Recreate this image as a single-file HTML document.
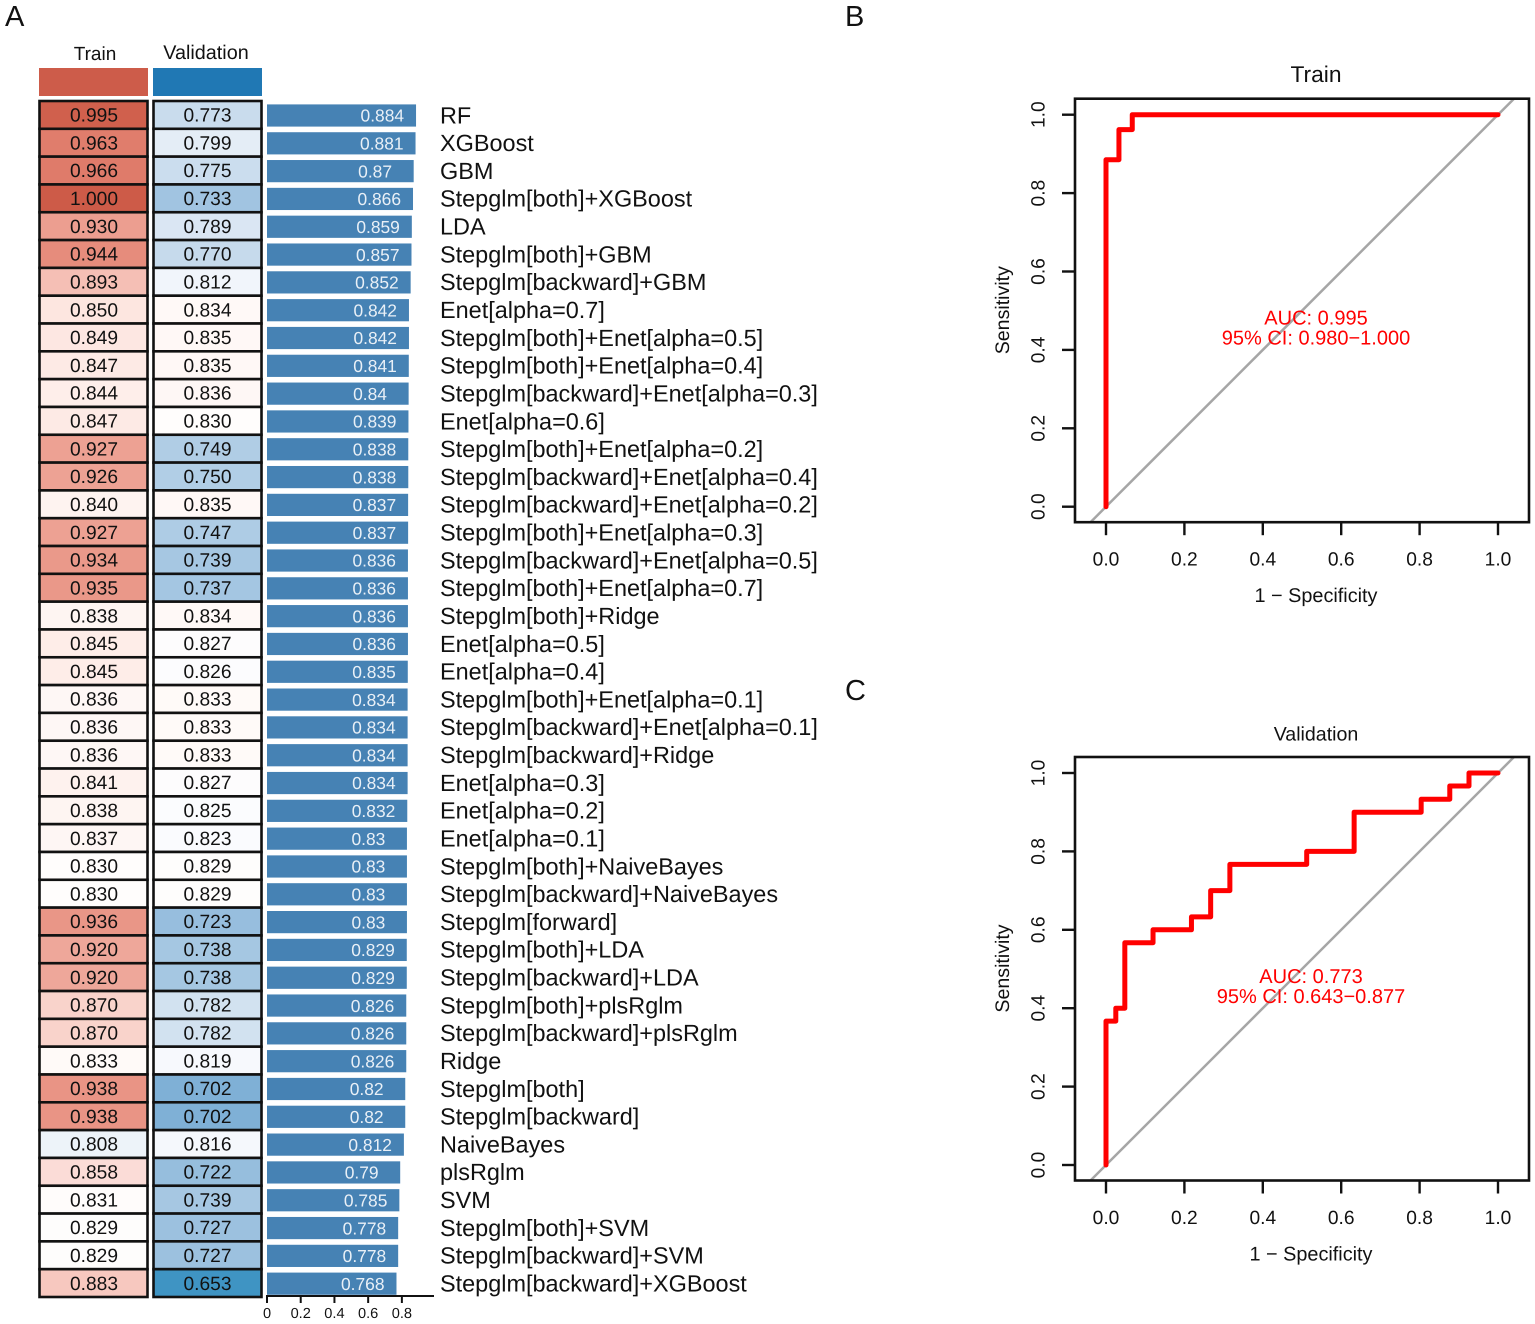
<!DOCTYPE html>
<html lang="en">
<head>
<meta charset="utf-8">
<title>Model benchmark heatmap and ROC curves</title>
<style>
html,body{margin:0;padding:0;background:#fff;width:1535px;height:1324px;overflow:hidden}
svg{display:block;font-family:"Liberation Sans",Arial,sans-serif;text-rendering:geometricPrecision}
</style>
</head>
<body>
<svg id="fig" xmlns="http://www.w3.org/2000/svg" width="1535" height="1324" viewBox="0 0 1535 1324">
  <rect x="0" y="0" width="1535" height="1324" fill="#ffffff"/>
  <text x="5" y="26" font-size="29" fill="#111">A</text>
  <text x="845" y="26" font-size="29" fill="#111">B</text>
  <text x="845" y="700" font-size="29" fill="#111">C</text>
  <text x="95" y="60" font-size="19" text-anchor="middle" fill="#111">Train</text>
  <text x="206" y="59" font-size="19.8" text-anchor="middle" fill="#111">Validation</text>
  <rect x="39" y="68" width="109" height="28" fill="#cd5c4a"/>
  <rect x="153" y="68" width="109" height="28" fill="#2078b4"/>
</svg>
<script>
const methods = ["RF","XGBoost","GBM","Stepglm[both]+XGBoost","LDA","Stepglm[both]+GBM","Stepglm[backward]+GBM","Enet[alpha=0.7]","Stepglm[both]+Enet[alpha=0.5]","Stepglm[both]+Enet[alpha=0.4]","Stepglm[backward]+Enet[alpha=0.3]","Enet[alpha=0.6]","Stepglm[both]+Enet[alpha=0.2]","Stepglm[backward]+Enet[alpha=0.4]","Stepglm[backward]+Enet[alpha=0.2]","Stepglm[both]+Enet[alpha=0.3]","Stepglm[backward]+Enet[alpha=0.5]","Stepglm[both]+Enet[alpha=0.7]","Stepglm[both]+Ridge","Enet[alpha=0.5]","Enet[alpha=0.4]","Stepglm[both]+Enet[alpha=0.1]","Stepglm[backward]+Enet[alpha=0.1]","Stepglm[backward]+Ridge","Enet[alpha=0.3]","Enet[alpha=0.2]","Enet[alpha=0.1]","Stepglm[both]+NaiveBayes","Stepglm[backward]+NaiveBayes","Stepglm[forward]","Stepglm[both]+LDA","Stepglm[backward]+LDA","Stepglm[both]+plsRglm","Stepglm[backward]+plsRglm","Ridge","Stepglm[both]","Stepglm[backward]","NaiveBayes","plsRglm","SVM","Stepglm[both]+SVM","Stepglm[backward]+SVM","Stepglm[backward]+XGBoost"];
const trainAuc = [0.995,0.963,0.966,1.000,0.930,0.944,0.893,0.850,0.849,0.847,0.844,0.847,0.927,0.926,0.840,0.927,0.934,0.935,0.838,0.845,0.845,0.836,0.836,0.836,0.841,0.838,0.837,0.830,0.830,0.936,0.920,0.920,0.870,0.870,0.833,0.938,0.938,0.808,0.858,0.831,0.829,0.829,0.883];
const validationAuc = [0.773,0.799,0.775,0.733,0.789,0.770,0.812,0.834,0.835,0.835,0.836,0.830,0.749,0.750,0.835,0.747,0.739,0.737,0.834,0.827,0.826,0.833,0.833,0.833,0.827,0.825,0.823,0.829,0.829,0.723,0.738,0.738,0.782,0.782,0.819,0.702,0.702,0.816,0.722,0.739,0.727,0.727,0.653];
const meanAuc = [0.884,0.881,0.87,0.866,0.859,0.857,0.852,0.842,0.842,0.841,0.84,0.839,0.838,0.838,0.837,0.837,0.836,0.836,0.836,0.836,0.835,0.834,0.834,0.834,0.834,0.832,0.83,0.83,0.83,0.83,0.829,0.829,0.826,0.826,0.826,0.82,0.82,0.812,0.79,0.785,0.778,0.778,0.768];
const meanTicks = [0,0.2,0.4,0.6,0.8];
const colorValues = [0.653,0.702,0.727,0.739,0.773,0.799,0.816,0.825,0.83,0.84,0.85,0.858,0.87,0.893,0.93,0.944,0.966,1.0];
const colorHexes = ["#3f94c3","#7fb0d6","#9cc1df","#a6c7e2","#c9dced","#e4edf6","#f5f8fc","#fbfcfe","#fffdfc","#fef3f0","#fde6e0","#fbdcd7","#f9d3cb","#f5bfb5","#ec9e90","#e68c7c","#df7b6a","#cd5b48"];
const rocTicks = [0,0.2,0.4,0.6,0.8,1];
const trainFpr = [0,0,0.033,0.033,0.067,0.067,1];
const trainTpr = [0,0.885,0.885,0.962,0.962,1,1];
const validationFpr = [0,0,0.025,0.025,0.048,0.048,0.12,0.12,0.218,0.218,0.267,0.267,0.316,0.316,0.512,0.512,0.633,0.633,0.804,0.804,0.877,0.877,0.926,0.926,1];
const validationTpr = [0,0.367,0.367,0.4,0.4,0.567,0.567,0.6,0.6,0.633,0.633,0.7,0.7,0.767,0.767,0.8,0.8,0.9,0.9,0.933,0.933,0.967,0.967,1,1];

const NS = "http://www.w3.org/2000/svg";
const svg = document.getElementById("fig");
function make(tag, attrs, parent, content) {
  const n = document.createElementNS(NS, tag);
  for (const k in attrs) n.setAttribute(k, attrs[k]);
  if (content !== undefined) n.textContent = content;
  (parent || svg).appendChild(n);
  return n;
}
function hexRgb(h) { return [1,3,5].map(i => parseInt(h.substr(i,2),16)); }
function heatColor(v) {
  if (v <= colorValues[0]) return colorHexes[0];
  for (let i = 1; i < colorValues.length; i++) {
    if (v <= colorValues[i]) {
      const t = (v - colorValues[i-1]) / (colorValues[i] - colorValues[i-1]);
      const a = hexRgb(colorHexes[i-1]), b = hexRgb(colorHexes[i]);
      return "rgb(" + a.map((c,j) => Math.round(c + (b[j]-c)*t)).join(",") + ")";
    }
  }
  return colorHexes[colorHexes.length-1];
}

/* heatmap panel */
const gridTop = 101, rowH = 1196 / methods.length;
const rowY = i => gridTop + rowH * i;
const barX = v => 267 + v * 168.6;
function fmt3(v) { return v.toFixed(3); }

function drawColumn(values, x0, x1, textX, key) {
  const g = make("g", {});
  
  
  values.forEach((v, i) => {
    const cell = make("rect", {x:x0, y:rowY(i), width:x1-x0, height:rowH, fill:heatColor(v), stroke:"#111", "stroke-width":2.6}, g);
    
    
    const label = make("text", {x:textX, y:rowY(i)+rowH/2+1.2, "font-size":19.2, "text-anchor":"middle", "dominant-baseline":"central", fill:"#111"}, g, fmt3(v));
    
    
  });
}
drawColumn(trainAuc, 39.5, 147.5, 94, "train");
drawColumn(validationAuc, 153.5, 261.5, 207.5, "validation");

meanAuc.forEach((v, i) => {
  const bar = make("rect", {x:barX(0), y:rowY(i)+3.4, width:barX(v)-barX(0), height:22.2, fill:"#4682b4"});
  
  
  const val = make("text", {x:barX(v)-55.5, y:rowY(i)+rowH/2+0.8, "font-size":17.4, "dominant-baseline":"central", fill:"#e9f0f7"}, svg, String(v));
  
  
  const name = make("text", {x:440, y:rowY(i)+rowH/2+0.4, "font-size":23.45, "dominant-baseline":"central", fill:"#111"}, svg, methods[i]);
  
  
});

const barAxis = make("line", {x1:266, x2:434, y1:1296, y2:1296, stroke:"#111", "stroke-width":2});


meanTicks.forEach(t => {
  const tick = make("line", {x1:barX(t), x2:barX(t), y1:1296, y2:1303, stroke:"#111", "stroke-width":2});
  
  
  const lab = make("text", {x:barX(t), y:1314, "font-size":14.6, "text-anchor":"middle", "dominant-baseline":"central", fill:"#111"}, svg, String(t));
  
  
});

/* ROC panels */
function drawRoc(cfg) {
  const g = make("g", {});
  
  
  const sx = f => 1106 + f * 392;
  const sy = s => cfg.y0 - s * 392;
  const top = cfg.y0 - 408, bottom = cfg.y0 + 15.5, left = 1075, right = 1529;

  const title = make("text", {x:1316, y:cfg.titleY, "font-size":cfg.titleSize, "text-anchor":"middle", "dominant-baseline":"central", fill:"#111"}, g, cfg.title);
  
  

  const diag = make("line", {x1:sx((cfg.y0-bottom)/392), y1:bottom, x2:sx((cfg.y0-top)/392), y2:top, stroke:"#a6a6a6", "stroke-width":2.5}, g);
  
  

  const pts = cfg.fpr.map((f,i) => sx(f).toFixed(2) + "," + sy(cfg.tpr[i]).toFixed(2)).join(" ");
  const curve = make("polyline", {points:pts, fill:"none", stroke:"#ff0000", "stroke-width":5, "stroke-linejoin":"round", "stroke-linecap":"round"}, g);
  
  

  const box = make("rect", {x:left, y:top, width:right-left, height:bottom-top, fill:"none", stroke:"#111", "stroke-width":2.6}, g);
  
  

  rocTicks.forEach(t => {
    const xt = make("line", {x1:sx(t), x2:sx(t), y1:bottom, y2:bottom+13, stroke:"#111", "stroke-width":2.4}, g);
    
    
    const xl = make("text", {x:sx(t), y:bottom+38, "font-size":19.2, "text-anchor":"middle", "dominant-baseline":"central", fill:"#111"}, g, t.toFixed(1));
    
    
    const yt = make("line", {x1:left-13, x2:left, y1:sy(t), y2:sy(t), stroke:"#111", "stroke-width":2.4}, g);
    
    
    const yl = make("text", {x:0, y:0, transform:"translate(1039 " + sy(t) + ") rotate(-90)", "font-size":19.2, "text-anchor":"middle", "dominant-baseline":"central", fill:"#111"}, g, t.toFixed(1));
    
    
  });

  const xt = make("text", {x:cfg.cx, y:bottom+74, "font-size":19.85, "text-anchor":"middle", "dominant-baseline":"central", fill:"#111"}, g, "1 \u2212 Specificity");
  
  
  const yt = make("text", {x:0, y:0, transform:"translate(1003 " + (cfg.y0-196.5) + ") rotate(-90)", "font-size":19.6, "text-anchor":"middle", "dominant-baseline":"central", fill:"#111"}, g, "Sensitivity");
  
  

  const a1 = make("text", {x:cfg.cx, y:cfg.y0-188, "font-size":20, "text-anchor":"middle", "dominant-baseline":"central", fill:"#ff0000"}, g, cfg.auc);
  
  
  const a2 = make("text", {x:cfg.cx, y:cfg.y0-168, "font-size":20, "text-anchor":"middle", "dominant-baseline":"central", fill:"#ff0000"}, g, cfg.ci);
  
  
}
drawRoc({key:"train", title:"Train", titleY:74, titleSize:22.8, y0:506.7, cx:1316, fpr:trainFpr, tpr:trainTpr, auc:"AUC: 0.995", ci:"95% CI: 0.980\u22121.000"});
drawRoc({key:"validation", title:"Validation", titleY:734.5, titleSize:19.6, y0:1165, cx:1311, fpr:validationFpr, tpr:validationTpr, auc:"AUC: 0.773", ci:"95% CI: 0.643\u22120.877"});
</script>
</body>
</html>
